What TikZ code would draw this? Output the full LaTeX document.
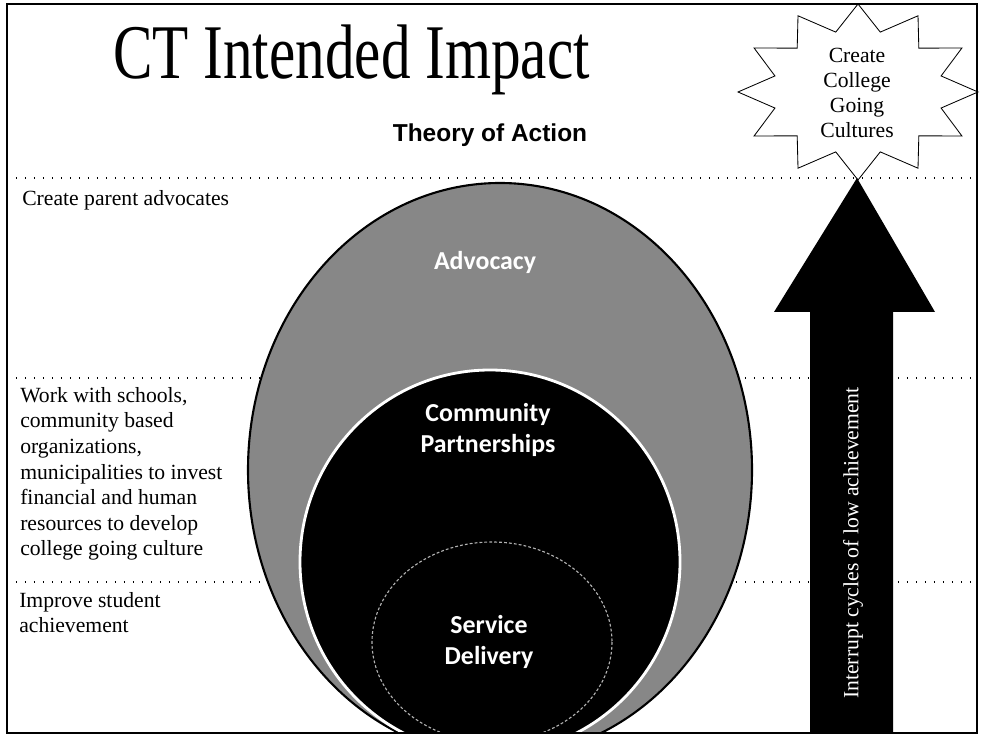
\documentclass[tikz,border=0pt]{standalone}
\usepackage{fontspec}
\setmainfont{Liberation Serif}
\newfontfamily\titlefont[FakeStretch=0.765]{Liberation Serif}
\newfontfamily\headfont{Liberation Sans}
\newfontfamily\ringfont{Carlito}
\usetikzlibrary{positioning}
\definecolor{ringgray}{gray}{0.53}

\begin{document}
\begin{tikzpicture}[x=0.025cm,y=-0.025cm,
    side text/.style={anchor=north west,inner sep=0,align=left,font=\fontsize{15.4}{18.2}\selectfont},
    ring text/.style={align=center,text=white,inner sep=0,font=\ringfont\bfseries\fontsize{18.4}{22.5}\selectfont},
    band line/.style={line width=0.9pt,dash pattern=on 0.9pt off 5.5pt},
    burst/.style={draw,fill=white,line width=0.6pt,line join=miter}]

            \useasboundingbox[fill=white] (0,0) rectangle (984,740);

            \draw[band line] (7,178) -- (977,178);
            \draw[band line] (7,378) -- (977,378);
            \draw[band line] (7,582) -- (977,582);

            \begin{scope}
                \clip (7,4) rectangle (977,733);
                \filldraw[fill=ringgray,draw=black,line width=1.5pt] (500,470) ellipse [x radius=252, y radius=287];
                \filldraw[fill=black,draw=white,line width=2pt] (490,562) ellipse [x radius=190, y radius=192];
                \draw[white!70!black,line width=0.8pt,dash pattern=on 2pt off 1.5pt] (492,642) ellipse [x radius=120, y radius=100];
            \end{scope}

            \draw[burst] plot[variable=\k,samples at={0,...,23}]
                ({858+ifthenelse(mod(\k,2)==0,120,86)*cos(90+15*\k)},{92-ifthenelse(mod(\k,2)==0,88,62)*sin(90+15*\k)}) -- cycle;

            \coordinate (tip) at (857,178);
            \fill (810,733) -- (810,312) -- (774,312) -- (tip) -- (935,312) -- (893,312) -- (893,733) -- cycle;

            \draw[line width=1pt] (7,4) rectangle (977,733);

            \node[anchor=base west,inner sep=0,font=\titlefont\fontsize{55}{60}\selectfont] (title) at (113,79) {CT Intended Impact};
            \node[anchor=base,inner sep=0,font=\headfont\bfseries\fontsize{17.4}{20}\selectfont] (theory) at (490,142) {Theory of Action};
            \node[align=center,inner sep=0,font=\fontsize{15.4}{17.8}\selectfont] (goal) at (857,93) {Create\\College\\Going\\Cultures};

            \node[side text] (parents) at (22,190) {Create parent advocates};
            \node[side text] (partners) at (20,387) {Work with schools,\\community based\\organizations,\\municipalities to invest\\financial and human\\resources to develop\\college going culture};
            \node[side text] (students) at (19,592) {Improve student\\achievement};

            \node[ring text] (advocacy) at (485,262) {Advocacy};
            \node[ring text] (community) at (488,430) {Community\\Partnerships};
            \node[ring text] (service) at (489,642) {Service\\Delivery};

            \node[rotate=90,inner sep=0,text=white,font=\fontsize{15.4}{18}\selectfont] (cycles) at (853,543) {Interrupt cycles of low achievement};
        \end{tikzpicture}
\end{document}
